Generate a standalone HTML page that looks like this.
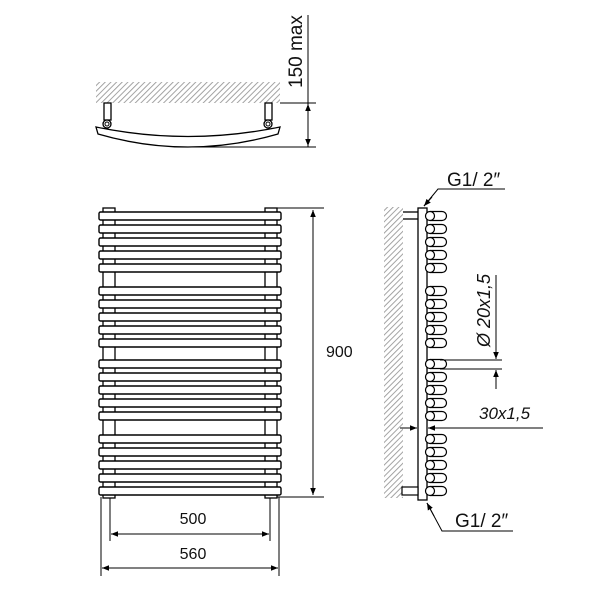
<!DOCTYPE html>
<html><head><meta charset="utf-8"><style>
html,body{margin:0;padding:0;background:#fff}
svg{display:block}
text{font-family:"Liberation Sans",Arial,sans-serif;fill:#111}
</style></head><body>
<svg width="600" height="600" viewBox="0 0 600 600" xmlns="http://www.w3.org/2000/svg">
<defs>
<pattern id="h" width="4" height="4" patternUnits="userSpaceOnUse" patternTransform="rotate(45)">
<rect width="4" height="4" fill="#fff"/><line x1="0" y1="0" x2="0" y2="4" stroke="#999" stroke-width="1.8"/>
</pattern>
<marker id="a" viewBox="0 0 10 10" refX="10" refY="5" markerWidth="7" markerHeight="7" orient="auto-start-reverse"><path d="M0,1 L10,5 L0,9 z" fill="#000"/></marker>
<g id="bar"><rect x="99" y="-4" width="182" height="8" rx="1.5" fill="#fff" stroke="#000" stroke-width="1.4"/></g>
<g id="ov"><path d="M430,-4.5 H442 A4.5,4.5 0 0 1 442,4.5 H430" fill="#fff" stroke="#000" stroke-width="1.2"/><circle cx="430" cy="0" r="4.5" fill="#fff" stroke="#000" stroke-width="1.2"/></g>
</defs>
<g stroke="#000" fill="none" stroke-width="1">
<rect x="96" y="82" width="184" height="21" fill="url(#h)" stroke="none"/>
<rect x="104" y="103" width="7" height="17" fill="#fff" stroke-width="1.3"/>
<rect x="265" y="103" width="7" height="17" fill="#fff" stroke-width="1.3"/>
<path d="M96,127 Q188,146 280,127 L278,134 Q188,160 98,134 Z" fill="#fff" stroke-width="1.3"/>
<circle cx="107" cy="124" r="4" fill="#fff" stroke-width="1.3"/><circle cx="107" cy="124" r="2"/>
<circle cx="268" cy="124" r="4" fill="#fff" stroke-width="1.3"/><circle cx="268" cy="124" r="2"/>
<line x1="280" y1="103" x2="316" y2="103"/>
<line x1="190" y1="147" x2="316" y2="147"/>
<line x1="308" y1="15" x2="308" y2="147"/>
<line x1="308" y1="125" x2="308" y2="104" marker-end="url(#a)"/>
<line x1="308" y1="125" x2="308" y2="146" marker-end="url(#a)"/>
<rect x="103" y="208" width="12" height="290" fill="#fff" stroke-width="1.3"/>
<rect x="265" y="208" width="12" height="290" fill="#fff" stroke-width="1.3"/>
</g>
<use href="#bar" y="216"/><use href="#bar" y="229"/><use href="#bar" y="242"/><use href="#bar" y="255"/><use href="#bar" y="268"/>
<use href="#bar" y="291"/><use href="#bar" y="304"/><use href="#bar" y="317"/><use href="#bar" y="330"/><use href="#bar" y="343"/>
<use href="#bar" y="364"/><use href="#bar" y="377"/><use href="#bar" y="390"/><use href="#bar" y="403"/><use href="#bar" y="416"/>
<use href="#bar" y="439"/><use href="#bar" y="452"/><use href="#bar" y="465"/><use href="#bar" y="478"/><use href="#bar" y="491"/>
<g stroke="#000" fill="none" stroke-width="1">
<line x1="277" y1="208" x2="324" y2="208"/>
<line x1="277" y1="497" x2="324" y2="497"/>
<line x1="313" y1="210" x2="313" y2="495" marker-start="url(#a)" marker-end="url(#a)"/>
<line x1="101" y1="497" x2="101" y2="576"/>
<line x1="279" y1="497" x2="279" y2="576"/>
<line x1="110" y1="498" x2="110" y2="541"/>
<line x1="270" y1="498" x2="270" y2="541"/>
<line x1="111" y1="534" x2="269" y2="534" marker-start="url(#a)" marker-end="url(#a)"/>
<line x1="102" y1="568" x2="278" y2="568" marker-start="url(#a)" marker-end="url(#a)"/>
<rect x="384" y="207" width="19" height="291" fill="url(#h)" stroke="none"/>
<rect x="418" y="208" width="9" height="292" fill="#fff" stroke-width="1.3"/>
<line x1="403" y1="212" x2="418" y2="212" stroke-width="1.3"/>
<line x1="403" y1="219" x2="418" y2="219" stroke-width="1.3"/>
<rect x="402" y="487" width="16" height="8" fill="#fff" stroke-width="1.2"/>
</g>
<use href="#ov" y="216"/><use href="#ov" y="229"/><use href="#ov" y="242"/><use href="#ov" y="255"/><use href="#ov" y="268"/>
<use href="#ov" y="291"/><use href="#ov" y="304"/><use href="#ov" y="317"/><use href="#ov" y="330"/><use href="#ov" y="343"/>
<use href="#ov" y="364"/><use href="#ov" y="377"/><use href="#ov" y="390"/><use href="#ov" y="403"/><use href="#ov" y="416"/>
<use href="#ov" y="439"/><use href="#ov" y="452"/><use href="#ov" y="465"/><use href="#ov" y="478"/><use href="#ov" y="491"/>
<g stroke="#000" fill="none" stroke-width="1">
<polyline points="505,189 438,189 424,206"/>
<line x1="432" y1="197" x2="424" y2="206" marker-end="url(#a)"/>
<polyline points="513,531 442,531 427,503"/>
<line x1="434" y1="516" x2="427" y2="503" marker-end="url(#a)"/>
<line x1="440" y1="360" x2="502" y2="360"/>
<line x1="440" y1="369" x2="502" y2="369"/>
<line x1="496" y1="275" x2="496" y2="359" marker-end="url(#a)"/>
<line x1="496" y1="389" x2="496" y2="370" marker-end="url(#a)"/>
<line x1="543" y1="428" x2="428" y2="428" marker-end="url(#a)"/>
<line x1="400" y1="428" x2="417" y2="428" marker-end="url(#a)"/>
</g>
<text x="0" y="0" font-size="19" transform="translate(302,88) rotate(-90)">150 max</text>
<text x="326" y="357" font-size="16">900</text>
<text x="193" y="524" font-size="16" text-anchor="middle">500</text>
<text x="193" y="559" font-size="16" text-anchor="middle">560</text>
<text x="447" y="186" font-size="19">G1/ 2″</text>
<text x="455" y="527" font-size="19">G1/ 2″</text>
<text x="479" y="419" font-size="17" font-style="italic">30x1,5</text>
<text x="0" y="0" font-size="18" font-style="italic" transform="translate(490,347) rotate(-90)">Ø 20x1,5</text>
</svg>
</body></html>
